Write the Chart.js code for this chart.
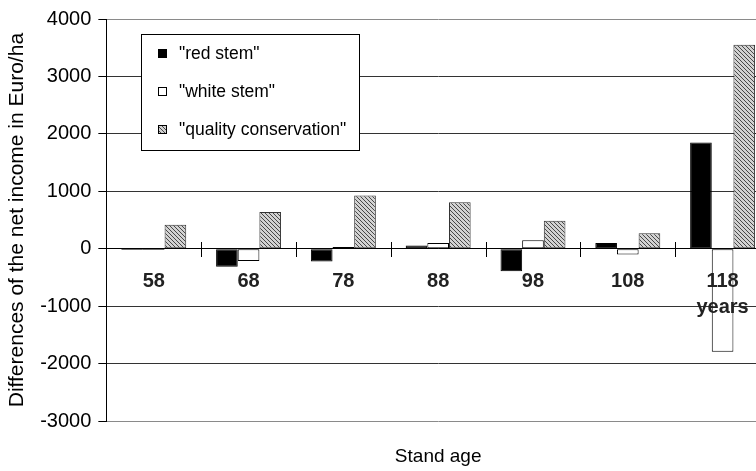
<!DOCTYPE html>
<html>
<head>
<meta charset="utf-8">
<script src="https://cdn.jsdelivr.net/npm/chart.js@4/dist/chart.umd.min.js"></script>
<style>
  html, body { margin: 0; padding: 0; background: #fff; overflow: hidden; }
  #wrap { width: 772px; height: 471px; }
</style>
</head>
<body>
<div id="wrap"><canvas id="c" width="772" height="471"></canvas></div>
<script>
// ---- data ----
const categories = ['58', '68', '78', '88', '98', '108', '118'];
const tickLabels = ['58', '68', '78', '88', '98', '108', ['118', 'years']];
const redStem = [-20, -310, -220, 60, -390, 100, 1850];
const whiteStem = [-20, -210, 30, 100, 150, -100, -1790];
const qualityConservation = [420, 640, 930, 810, 490, 270, 3550];
const seriesNames = ['"red stem"', '"white stem"', '"quality conservation"'];
const yTicks = [-3000, -2000, -1000, 0, 1000, 2000, 3000, 4000];

const FONT = "'Liberation Sans', Arial, sans-serif";

// hatch pattern
function makeHatch() {
  const p = document.createElement('canvas');
  p.width = 4; p.height = 4;
  const g = p.getContext('2d');
  g.fillStyle = '#d2d2d2';
  g.fillRect(0, 0, 4, 4);
  g.fillStyle = '#484848';
  for (let i = 0; i < 4; i++) g.fillRect(i, i, 1, 1);
  return g.createPattern(p, 'repeat');
}
const hatch = makeHatch();

const legendBox = {
  id: 'legendBox',
  afterDraw(chart) {
    const { ctx, chartArea } = chart;
    const x = Math.round(chartArea.left + 35), y = Math.round(chartArea.top + 15);
    const w = 218, h = 116;
    ctx.save();
    ctx.fillStyle = '#fff';
    ctx.fillRect(x, y, w, h);
    ctx.strokeStyle = '#000';
    ctx.lineWidth = 1;
    ctx.strokeRect(x + 0.5, y + 0.5, w, h);
    chart.data.datasets.forEach((ds, i) => {
      const cy = y + 19 + i * 38;
      ctx.fillStyle = ds.backgroundColor;
      ctx.fillRect(x + 17, cy - 4, 9, 9);
      ctx.strokeStyle = '#000';
      ctx.strokeRect(x + 17.5, cy - 3.5, 8, 8);
      ctx.fillStyle = '#000';
      ctx.font = '17.5px ' + FONT;
      ctx.textBaseline = 'middle';
      ctx.textAlign = 'left';
      ctx.fillText(ds.label, x + 38, cy + 1);
    });
    ctx.restore();
  }
};

const xTickMarks = {
  id: 'xTickMarks',
  afterDatasetsDraw(chart) {
    const { ctx } = chart;
    const xs = chart.scales.x, ys = chart.scales.y;
    const y0 = Math.round(ys.getPixelForValue(0));
    ctx.save();
    ctx.strokeStyle = '#000';
    ctx.lineWidth = 1;
    for (let i = 1; i < categories.length; i++) {
      const px = Math.round((xs.getPixelForValue(i - 1) + xs.getPixelForValue(i)) / 2) + 0.5;
      ctx.beginPath();
      ctx.moveTo(px, y0 - 7);
      ctx.lineTo(px, y0 + 8);
      ctx.stroke();
    }
    ctx.restore();
  }
};

new Chart(document.getElementById('c'), {
  type: 'bar',
  data: {
    labels: tickLabels,
    datasets: [
      { label: seriesNames[0], data: redStem, backgroundColor: '#000', borderColor: '#000', borderWidth: 1, borderSkipped: false },
      { label: seriesNames[1], data: whiteStem, backgroundColor: '#fff', borderColor: '#000', borderWidth: 1, borderSkipped: false },
      { label: seriesNames[2], data: qualityConservation, backgroundColor: hatch, borderColor: '#333', borderWidth: 1, borderSkipped: false }
    ]
  },
  options: {
    responsive: false,
    animation: false,
    layout: { padding: { left: 2, top: 18, right: 2, bottom: 0 } },
    datasets: { bar: { categoryPercentage: 0.685, barPercentage: 1.0 } },
    plugins: {
      legend: { display: false },
      tooltip: { enabled: false },
      title: {
        display: true,
        text: 'Stand age',
        position: 'bottom',
        fullSize: false,
        color: '#000',
        font: { family: FONT, size: 19, weight: 'normal' },
        padding: { top: 24, bottom: 3 }
      }
    },
    scales: {
      x: {
        type: 'category',
        position: { y: 0 },
        offset: true,
        grid: { display: false, drawTicks: false },
        border: { display: true, color: '#000', width: 1, z: 1 },
        ticks: {
          z: 1,
          color: '#222',
          padding: 20,
          maxRotation: 0,
          autoSkip: false,
          font: { family: FONT, size: 20, weight: 'bold', lineHeight: '26px' }
        }
      },
      y: {
        min: -3000,
        max: 4000,
        afterBuildTicks: (s) => { s.ticks = yTicks.map(v => ({ value: v })); },
        grid: {
          color: (c) => (c.index === 0 || c.index === yTicks.length - 1) ? '#8a8a8a' : '#333',
          tickColor: '#000',
          tickLength: 8,
          lineWidth: 1
        },
        border: { display: true, color: '#000', width: 1 },
        ticks: {
          color: '#000',
          padding: 7,
          font: { family: FONT, size: 20 },
          callback: (v) => String(v)
        },
        title: {
          display: true,
          text: 'Differences of the net income in Euro/ha',
          color: '#000',
          font: { family: FONT, size: 21, weight: 'normal' },
          padding: { top: 3, bottom: 3 }
        }
      }
    }
  },
  plugins: [xTickMarks, legendBox]
});
</script>
</body>
</html>
